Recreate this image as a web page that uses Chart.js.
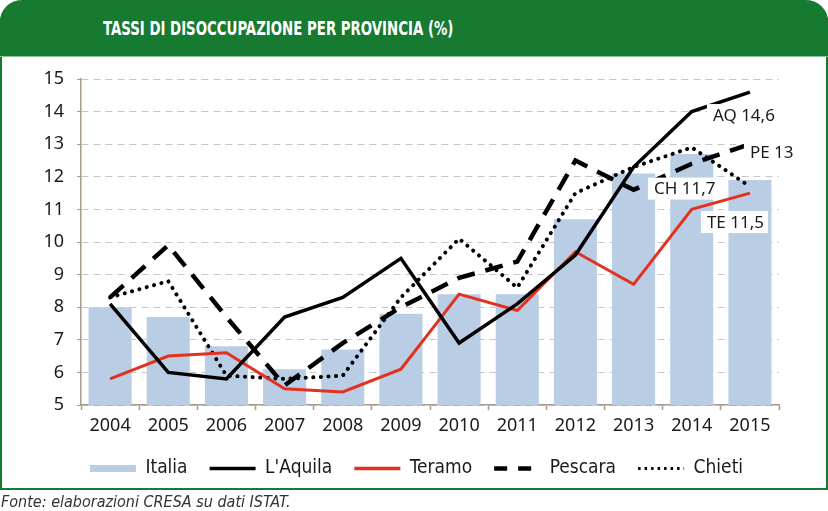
<!DOCTYPE html>
<html><head><meta charset="utf-8">
<script src="https://cdn.jsdelivr.net/npm/chart.js@4"></script>
<style>
html,body{margin:0;padding:0;background:#fff;}
#wrap{position:relative;width:828px;height:511px;overflow:hidden;background:#fff;}
#frame{position:absolute;left:0;top:0;width:824px;height:488px;border:2px solid #167a30;border-top:none;border-radius:22px 22px 0 0;}
#header{position:absolute;left:0;top:0;width:828px;height:56px;background:#167a30;border-radius:22px 22px 0 0;border-bottom:1px solid #8cc49a;}
#title{position:absolute;left:103px;top:17px;color:#fff;font-weight:bold;font-size:19px;font-family:"Liberation Sans Narrow","DejaVu Sans Condensed",sans-serif;transform:scaleX(0.78);transform-origin:left center;white-space:nowrap;}
#footer{position:absolute;left:1px;top:492px;font-style:italic;font-size:16px;font-family:"Liberation Sans Narrow","DejaVu Sans Condensed",sans-serif;color:#333;white-space:nowrap;}
canvas{position:absolute;left:0;top:0;}
</style></head>
<body>
<div id="wrap">
  <div id="frame"></div>
  <div id="header"></div>
  <div id="title">TASSI DI DISOCCUPAZIONE PER PROVINCIA (%)</div>
  <canvas id="c" width="828" height="511"></canvas>
  <div id="footer">Fonte: elaborazioni CRESA su dati ISTAT.</div>
</div>
<script>
const categories = ['2004','2005','2006','2007','2008','2009','2010','2011','2012','2013','2014','2015'];
const italia  = [8.0, 7.7, 6.8, 6.1, 6.7, 7.8, 8.4, 8.4, 10.7, 12.1, 12.7, 11.9];
const laquila = [8.1, 6.0, 5.8, 7.7, 8.3, 9.5, 6.9, 8.1, 9.6, 12.3, 14.0, 14.6];
const teramo  = [5.8, 6.5, 6.6, 5.5, 5.4, 6.1, 8.4, 7.9, 9.7, 8.7, 11.0, 11.5];
const pescara = [8.3, 9.9, 7.7, 5.6, 6.9, 8.0, 8.9, 9.4, 12.5, 11.6, 12.4, 13.0];
const chieti  = [8.3, 8.8, 5.9, 5.8, 5.9, 8.3, 10.1, 8.6, 11.5, 12.3, 12.9, 11.7];
const seriesNames = ['Italia', "L'Aquila", 'Teramo', 'Pescara', 'Chieti'];
const endCodes = ['AQ', 'TE', 'PE', 'CH'];
const yTicks = [5, 15, 1];

const axisColor = '#a79a8e';
const textColor = '#1a1a1a';
const tickFont = {family: "'Noto Sans'", size: 18};

const fmt = v => String(v).replace('.', ',');

const endLabelPlugin = {
  id: 'endLabels',
  afterDatasetsDraw(chart) {
    const {ctx, scales: {x, y}} = chart;
    const last = categories.length - 1;
    // [code, series, dx, dy]
    const items = [
      [endCodes[0], laquila, -37, 23],
      [endCodes[2], pescara, 0, 8],
      [endCodes[3], chieti, -96, 2],
      [endCodes[1], teramo, -43, 29]
    ];
    ctx.save();
    ctx.font = "17px 'Noto Sans'";
    ctx.textBaseline = 'middle';
    ctx.textAlign = 'left';
    items.forEach(([code, arr, dx, dy]) => {
      const txt = code + ' ' + fmt(arr[last]);
      const px = x.getPixelForValue(last) + dx;
      const py = y.getPixelForValue(arr[last]) + dy;
      const w = ctx.measureText(txt).width;
      ctx.fillStyle = '#fff';
      ctx.fillRect(px - 6, py - 11, w + 10, 22);
      ctx.fillStyle = textColor;
      ctx.fillText(txt, px, py + 1);
    });
    ctx.restore();
  }
};

// shift the legend block slightly right, as in the original layout
const legendShift = {
  id: 'legendShift',
  afterLayout(chart) {
    if (chart.legend) { chart.legend.left += 27; chart.legend.right += 27; }
  }
};

new Chart(document.getElementById('c'), {
  data: {
    labels: categories,
    datasets: [
      {type: 'bar', label: seriesNames[0], data: italia, backgroundColor: '#b9cde5', borderWidth: 0,
       barPercentage: 0.74, categoryPercentage: 1, order: 9},
      {type: 'line', label: seriesNames[1], data: laquila, borderColor: '#000', borderWidth: 3.5,
       pointRadius: 0, tension: 0, order: 1},
      {type: 'line', label: seriesNames[2], data: teramo, borderColor: '#e2321f', borderWidth: 3,
       pointRadius: 0, tension: 0, order: 2},
      {type: 'line', label: seriesNames[3], data: pescara, borderColor: '#000', borderWidth: 4.5,
       borderDash: [18, 11], pointRadius: 0, tension: 0, order: 3},
      {type: 'line', label: seriesNames[4], data: chieti, borderColor: '#000', borderWidth: 4,
       borderDash: [0.1, 7.5], borderCapStyle: 'round', pointRadius: 0, tension: 0, order: 4}
    ]
  },
  options: {
    responsive: false,
    animation: false,
    layout: {padding: {left: 0, right: 49, top: 79, bottom: 23}},
    plugins: {
      tooltip: {enabled: false},
      legend: {
        position: 'bottom',
        labels: {
          usePointStyle: true,
          pointStyleWidth: 46,
          padding: 22,
          color: textColor,
          font: {family: "'Liberation Sans Narrow', 'DejaVu Sans Condensed', sans-serif", size: 19},
          generateLabels(chart) {
            const ds = chart.data.datasets;
            return ds.map((d, i) => ({
              text: d.label,
              fillStyle: 'rgba(0,0,0,0)',
              strokeStyle: i === 0 ? d.backgroundColor : d.borderColor,
              lineWidth: i === 0 ? 7 : (i === 3 ? 4.5 : (i === 4 ? 3 : 3.5)),
              lineDash: i === 3 ? [13, 11] : (i === 4 ? [2.5, 4] : []),
              lineCap: 'butt',
              pointStyle: 'line',
              fontColor: textColor,
              hidden: false,
              datasetIndex: i
            }));
          }
        }
      }
    },
    scales: {
      x: {
        grid: {display: true, drawOnChartArea: false, drawTicks: true, tickLength: 5, tickColor: axisColor, tickWidth: 1.5, offset: true},
        border: {display: true, color: axisColor, width: 1.5},
        ticks: {font: tickFont, color: textColor, padding: 5, maxRotation: 0, autoSkip: false},
        afterFit(s) { s.height = 32; }
      },
      y: {
        min: yTicks[0], max: yTicks[1],
        ticks: {stepSize: yTicks[2], font: tickFont, color: textColor, padding: 13},
        grid: {color: '#c6c6c6', lineWidth: 1, tickLength: 4, tickColor: axisColor, tickBorderDash: []},
        border: {display: true, color: axisColor, width: 1.5, dash: [7, 5]},
        afterFit(s) { s.width = 81; }
      }
    }
  },
  plugins: [endLabelPlugin, legendShift]
});
</script>
</body></html>
